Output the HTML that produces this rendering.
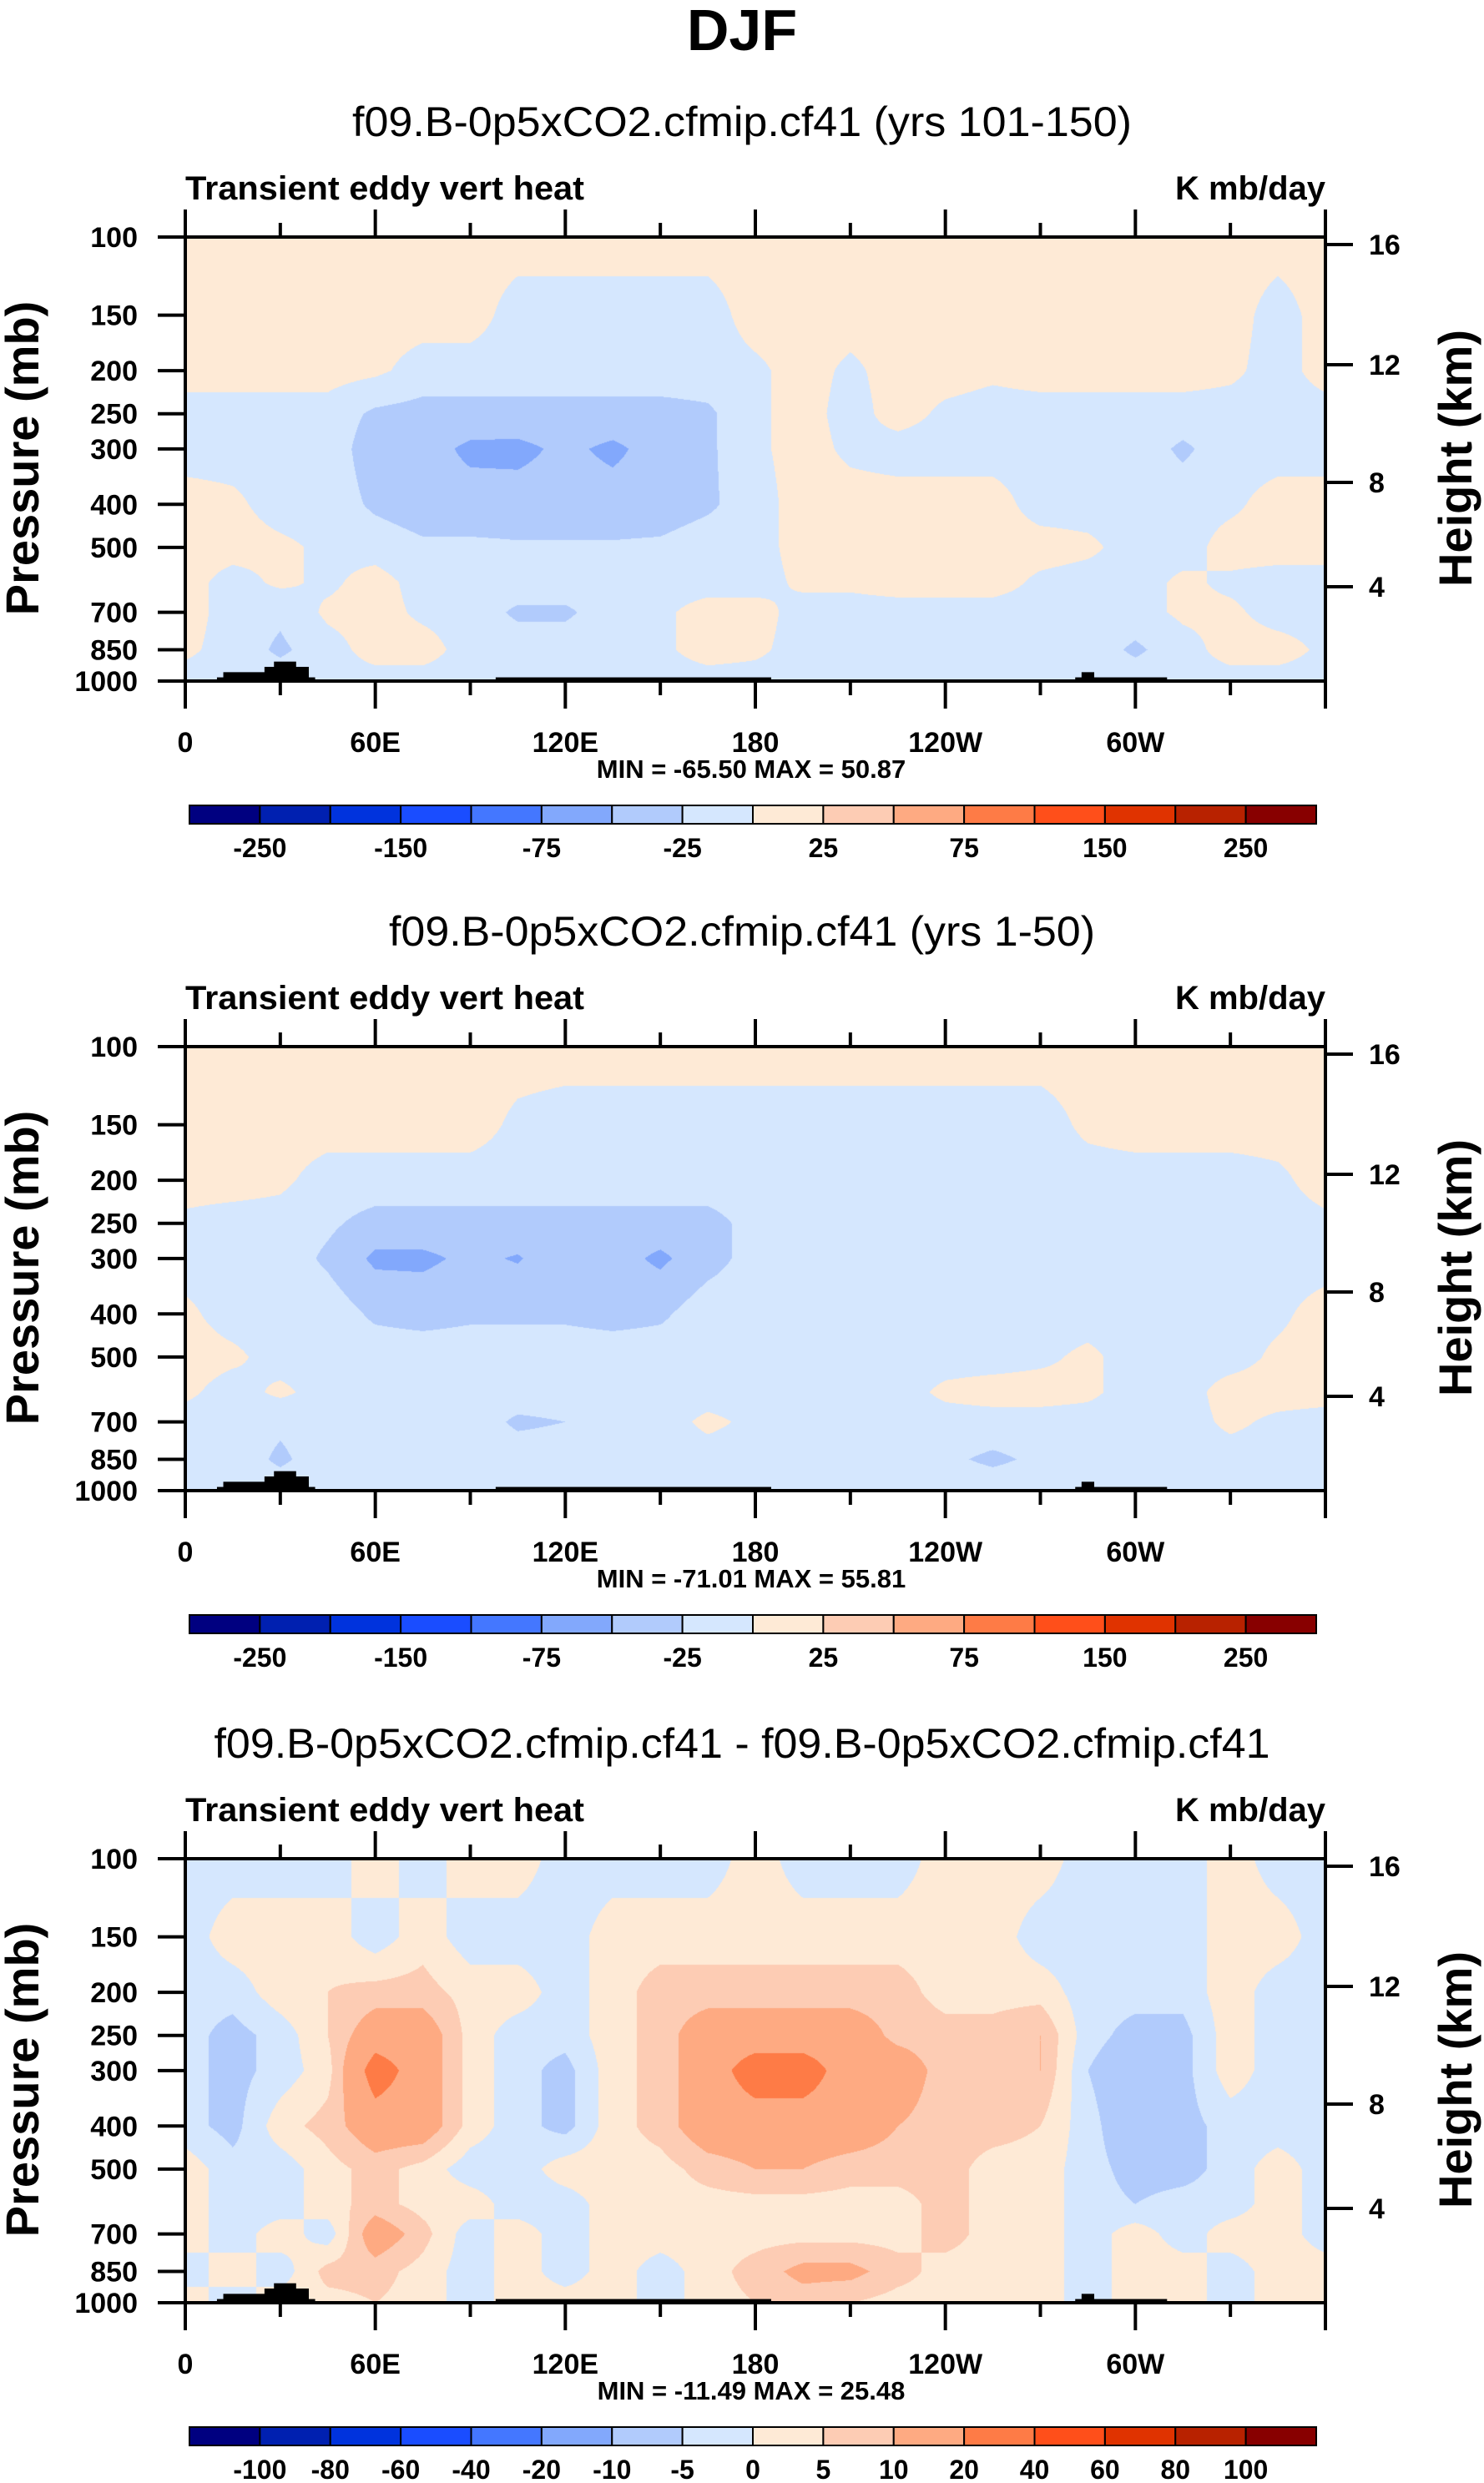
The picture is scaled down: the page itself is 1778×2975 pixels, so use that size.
<!DOCTYPE html>
<html><head><meta charset="utf-8">
<style>
html,body{margin:0;padding:0;background:#fff;}
body{width:1778px;height:2975px;position:relative;overflow:hidden;font-family:"Liberation Sans",Arial,sans-serif;}
canvas{position:absolute;}
svg{position:absolute;left:0;top:0;}
</style></head>
<body>
<canvas id="c1" width="1366" height="532" style="left:222px;top:284px"></canvas>
<canvas id="c2" width="1366" height="532" style="left:222px;top:1254px"></canvas>
<canvas id="c3" width="1366" height="532" style="left:222px;top:2227px"></canvas>
<svg id="ov" width="1778" height="2975" xmlns="http://www.w3.org/2000/svg">
<text x="889" y="60" text-anchor="middle" font-family="Liberation Sans, sans-serif" font-weight="bold" font-size="70">DJF</text>
</svg>
<script>
const lons=[0,15,30,45,60,75,90,105,120,135,150,165,180,195,210,225,240,255,270,285,300,315,330,345,360];
const levels=[100,150,200,250,300,400,500,600,700,850,1000];
const binsAbs=[-250,-200,-150,-100,-75,-50,-25,0,25,50,75,100,150,200,250];
const binsDiff=[-100,-80,-60,-40,-20,-10,-5,0,5,10,20,40,60,80,100];
const labelsAbs=["-250","","-150","","-75","","-25","","25","","75","","150","","250"];
const labelsDiff=["-100","-80","-60","-40","-20","-10","-5","0","5","10","20","40","60","80","100"];
const palette=['#000080','#0020b0','#0033dd','#1a4dff','#4477ff','#82a8fc','#b1cbfc','#d5e7fe','#feead6','#fdccb4','#feaa82','#fe7b46','#ff4f1a','#e03300','#b82200','#880000'];
const xTickLabels=["0","60E","120E","180","120W","60W"];
const xTickLons=[0,60,120,180,240,300];
const pTicks=[100,150,200,250,300,400,500,700,850,1000];
const hTicks=["16","12","8","4"];
const hTickOffsets=[9,153,294,419];
const field1=[
[10,10,10,10,10,10,10,10,10,10,10,10,10,10,10,10,10,10,10,10,10,10,10,10,10],
[10,10,10,10,10,10,10,-10,-10,-10,-10,-10,10,10,10,10,10,10,10,10,10,10,10,-10,10],
[10,10,10,10,5,-10,-10,-10,-10,-10,-10,-10,-5,10,-5,10,10,5,10,10,10,10,5,-10,10],
[-10,-10,-10,-10,-30,-35,-35,-35,-35,-35,-35,-30,-5,10,-10,10,-5,-10,-10,-10,-10,-10,-10,-10,-10],
[-10,-10,-10,-10,-40,-40,-55,-56,-45,-55,-40,-30,-5,10,-5,-10,-10,-10,-10,-10,-10,-30,-10,-10,-10],
[10,5,-10,-10,-30,-40,-40,-40,-40,-40,-40,-30,-10,10,10,10,10,10,-10,-10,-10,-10,-5,10,10],
[10,10,5,-5,-10,-20,-20,-22,-22,-22,-20,-10,-10,10,10,10,10,10,10,5,-10,-10,10,10,10],
[10,-10,5,-5,10,-10,-10,-10,-10,-10,-10,-10,-10,5,5,10,10,10,-5,-10,-10,5,-5,-10,-10],
[10,-10,-20,5,10,-5,-10,-30,-30,-10,-5,10,10,-10,-10,-10,-10,-10,-10,-5,-10,5,5,-10,-10],
[5,-10,-30,-10,10,10,-10,-10,-10,-10,-5,10,5,-10,-10,-10,-10,-10,-10,-10,-30,-10,10,10,-5],
[-10,-10,-10,-10,-10,-10,-10,-10,-10,-10,-10,-10,-10,-10,-10,-10,-10,-20,-10,-10,-10,-10,-10,-10,-10]];
const field2=[
[10,10,10,10,10,10,10,10,10,10,10,10,10,10,10,10,10,10,10,10,10,10,10,10,10],
[10,10,10,10,10,10,10,-5,-10,-10,-10,-10,-10,-10,-10,-10,-10,-10,-10,5,10,10,10,10,10],
[10,10,5,-10,-10,-10,-10,-10,-10,-10,-10,-10,-10,-10,-10,-10,-10,-10,-10,-10,-10,-10,-10,-5,10],
[-5,-10,-10,-20,-35,-35,-35,-35,-35,-35,-35,-35,-15,-10,-10,-10,-10,-10,-10,-10,-10,-10,-10,-10,-5],
[-10,-10,-10,-30,-55,-55,-45,-52,-35,-40,-55,-35,-15,-10,-10,-10,-10,-10,-10,-10,-10,-10,-10,-10,-10],
[5,-10,-10,-10,-30,-35,-30,-30,-30,-35,-30,-10,-10,-10,-10,-10,-10,-10,-10,-10,-10,-10,-10,-5,10],
[10,5,-10,-10,-10,-10,-10,-10,-10,-10,-10,-10,-10,-10,-10,-10,-10,-10,-5,5,-10,-10,-10,5,10],
[5,-10,5,-10,-10,-10,-10,-10,-10,-10,-10,-10,-10,-10,-10,-10,5,10,10,5,-10,-10,10,10,10],
[-10,-10,-20,-10,-10,-10,-10,-30,-25,-10,-10,5,-5,-10,-10,-10,-10,-10,-10,-10,-10,-10,5,-5,-10],
[-10,-10,-30,-10,-10,-10,-10,-10,-10,-10,-10,-10,-10,-10,-10,-10,-20,-30,-20,-10,-20,-10,-10,-10,-10],
[-10,-10,-10,-10,-10,-10,-10,-10,-10,-10,-10,-10,-10,-10,-10,-10,-10,-10,-10,-10,-10,-10,-10,-10,-10]];
const field3=[
[-3,-3,-3,-3,3,-3,3,3,-3,-3,-3,-3,3,-3,-3,-3,3,3,3,-3,-3,-3,3,-3,-3],
[-3,3,3,3,-3,3,-3,-3,-3,3,3,3,3,3,3,3,3,3,-3,-3,-3,-3,3,3,-3],
[-3,-3,3,5,7,7,3,3,-3,3,7,7,7,7,7,7,3,3,3,-3,-3,-3,3,-3,-3],
[-3,-7,-3,5,15,15,3,-3,-3,3,7,15,15,15,15,8,7,7,10,-3,-7,-7,3,-3,-3],
[-3,-7,-3,3,25,15,3,-3,-7,3,7,15,25,25,15,15,7,7,10,-5,-10,-7,3,-3,-3],
[-3,-7,3,7,15,15,3,-3,-7,3,7,15,15,15,15,10,7,7,5,-3,-10,-7,-3,-3,-3],
[3,-3,-3,3,7,3,-3,-3,3,3,3,7,10,10,7,7,7,3,3,-3,-7,-7,-3,3,-3],
[3,-3,-3,3,7,3,3,-3,-3,3,3,3,3,3,3,3,7,3,3,-3,-5,-3,-3,3,-3],
[3,-3,3,-3,15,7,-3,3,-3,3,3,3,3,3,3,3,7,3,3,-3,3,-3,3,3,-3],
[-3,3,-3,7,7,3,-3,3,-3,3,-3,3,7,12,12,7,3,3,3,-3,3,3,-3,3,3],
[3,-3,3,3,5,3,-3,3,3,3,-3,3,5,7,5,3,3,3,3,-3,3,3,-3,3,3]];
const topoLonStart=[10,12,25,28,98,281,283];
const topoLonEnd=[41,39,39,35,185,310,287];
const topoTop=[981,955,929,904,981,981,955];

const PL=222, PW=1366, PH=532;
const plots=[
 {top:284,canvas:'c1',field:field1,bins:binsAbs,labels:labelsAbs,title:'f09.B-0p5xCO2.cfmip.cf41 (yrs 101-150)',tl:934,mm:'MIN = -65.50   MAX =  50.87',key:'top'},
 {top:1254,canvas:'c2',field:field2,bins:binsAbs,labels:labelsAbs,title:'f09.B-0p5xCO2.cfmip.cf41 (yrs 1-50)',tl:846,mm:'MIN = -71.01   MAX =  55.81',key:'middle'},
 {top:2227,canvas:'c3',field:field3,bins:binsDiff,labels:labelsDiff,title:'f09.B-0p5xCO2.cfmip.cf41 - f09.B-0p5xCO2.cfmip.cf41',tl:1265,mm:'MIN = -11.49   MAX =  25.48',key:'diff'}
];
function xScale(lon){return PL+lon/360*PW;}
function yScale(p,T){return T+Math.log10(p/100)*PH;}
function hex(c){return [parseInt(c.substr(1,2),16),parseInt(c.substr(3,2),16),parseInt(c.substr(5,2),16)];}
const rgb=palette.map(hex);
function sample(field,lon,p){
  let j=Math.min(Math.floor(lon/15),lons.length-2); let tx=(lon-lons[j])/15;
  let i=0; while(i<levels.length-2 && p>levels[i+1]) i++;
  let ty=(Math.log(p)-Math.log(levels[i]))/(Math.log(levels[i+1])-Math.log(levels[i]));
  ty=Math.max(0,Math.min(1,ty));
  const a=field[i][j],b=field[i][j+1],c=field[i+1][j],d=field[i+1][j+1];
  return (a*(1-tx)+b*tx)*(1-ty)+(c*(1-tx)+d*tx)*ty;
}
function binIndex(v,bins){let k=0;while(k<bins.length&&v>=bins[k])k++;return k;}
const NS='http://www.w3.org/2000/svg';
const svg=document.getElementById('ov');
function mk(tag,attrs,parent){const e=document.createElementNS(NS,tag);for(const k in attrs)e.setAttribute(k,attrs[k]);(parent||svg).appendChild(e);return e;}
function txt(s,attrs,parent){const e=mk('text',Object.assign({'font-family':'Liberation Sans, sans-serif','font-weight':'bold'},attrs),parent);e.textContent=s;return e;}

plots.forEach(pl=>{
  const T=pl.top;
  const cv=document.getElementById(pl.canvas);
  const ctx=cv.getContext('2d');
  const img=ctx.createImageData(PW,PH);
  for(let y=0;y<PH;y++){
    const p=100*Math.pow(10,(y+0.5)/PH);
    for(let x=0;x<PW;x++){
      const lon=(x+0.5)/PW*360;
      const col=rgb[binIndex(sample(pl.field,lon,p),pl.bins)];
      const o=(y*PW+x)*4;img.data[o]=col[0];img.data[o+1]=col[1];img.data[o+2]=col[2];img.data[o+3]=255;
    }
  }
  ctx.putImageData(img,0,0);
  const g=mk('g',{});
  
  
  for(let k=0;k<topoTop.length;k++){
    const r=mk('rect',{x:xScale(topoLonStart[k]),y:yScale(topoTop[k],T),width:xScale(topoLonEnd[k])-xScale(topoLonStart[k]),height:yScale(1000,T)-yScale(topoTop[k],T),fill:'#000'},g);
    
    
  }
  const fr=mk('rect',{x:PL,y:T,width:PW,height:PH,fill:'none',stroke:'#000','stroke-width':4},g);
  
  
  const st=txt(pl.title,{x:889,y:T-121,'text-anchor':'middle','font-weight':'normal','font-size':50,textLength:pl.tl,lengthAdjust:'spacingAndGlyphs'},g);
  
  
  const lt=txt('Transient eddy vert heat',{x:PL,y:T-45,'font-size':40,textLength:478,lengthAdjust:'spacingAndGlyphs'},g);
  
  
  const ut=txt('K mb/day',{x:PL+PW,y:T-45,'text-anchor':'end','font-size':40},g);
  
  
  pTicks.forEach(p=>{
    const y=yScale(p,T);
    mk('line',{x1:PL-33,x2:PL,y1:y,y2:y,stroke:'#000','stroke-width':4},g);
    const t=txt(String(p),{x:165,y:y+12,'text-anchor':'end','font-size':34},g);
    
    
  });
  hTicks.forEach((h,k)=>{
    const y=T+hTickOffsets[k];
    mk('line',{x1:PL+PW,x2:PL+PW+33,y1:y,y2:y,stroke:'#000','stroke-width':4},g);
    const t=txt(h,{x:1640,y:y+12,'font-size':34},g);
    
    
  });
  for(let lon=0;lon<=360;lon+=30){
    const x=xScale(lon);const major=lon%60===0;
    mk('line',{x1:x,x2:x,y1:T,y2:T-(major?33:17),stroke:'#000','stroke-width':4},g);
    mk('line',{x1:x,x2:x,y1:T+PH,y2:T+PH+(major?33:17),stroke:'#000','stroke-width':4},g);
  }
  xTickLabels.forEach((l,k)=>{
    const t=txt(l,{x:xScale(xTickLons[k]),y:T+PH+85,'text-anchor':'middle','font-size':34},g);
    
    
  });
  const mm=txt(pl.mm,{x:900,y:T+PH+116,'text-anchor':'middle','font-size':31,'xml:space':'preserve'},g);
  
  
  const yt=txt('Pressure (mb)',{x:0,y:0,'text-anchor':'middle','font-size':56,transform:'translate(46,'+(T+265)+') rotate(-90)'},g);
  
  
  const ht=txt('Height (km)',{x:0,y:0,'text-anchor':'middle','font-size':56,transform:'translate(1763,'+(T+265)+') rotate(-90)'},g);
  
  
  const cbL=227,cbR=1577,cbY=T+PH+149,cbH=22,w=(cbR-cbL)/palette.length;
  palette.forEach((c,k)=>{
    const r=mk('rect',{x:cbL+k*w,y:cbY,width:w,height:cbH,fill:c,stroke:'#000','stroke-width':2},g);
    
    
  });
  pl.labels.forEach((l,k)=>{
    if(!l)return;
    const t=txt(l,{x:cbL+(k+1)*w,y:cbY+62,'text-anchor':'middle','font-size':32},g);
    
    
  });
});
</script>
</body></html>
